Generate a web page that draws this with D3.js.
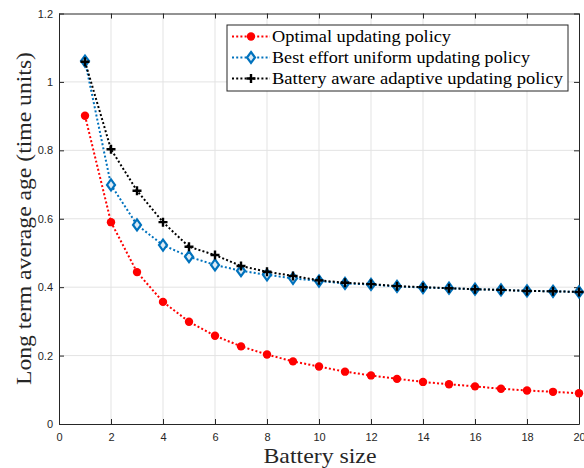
<!DOCTYPE html>
<html>
<head>
<meta charset="utf-8">
<script src="https://cdn.jsdelivr.net/npm/d3@7"></script>
<style>
  body { margin: 0; background: #fff; }
  .tick text { font-family: "Liberation Sans", Arial, sans-serif; font-size: 11px; fill: #262626; }
</style>
</head>
<body>
<svg width="584" height="468"></svg>
<script>
var batterySize = d3.range(1, 21);
var optimal = [0.901, 0.590, 0.444, 0.357, 0.299, 0.258, 0.227, 0.203, 0.183, 0.168,
               0.153, 0.142, 0.132, 0.123, 0.116, 0.110, 0.103, 0.098, 0.094, 0.090];
var bestEffort = [1.061, 0.699, 0.582, 0.523, 0.489, 0.465, 0.448, 0.436, 0.426, 0.418,
                  0.411, 0.408, 0.402, 0.399, 0.397, 0.394, 0.392, 0.389, 0.388, 0.386];
var batteryAware = [1.059, 0.803, 0.682, 0.590, 0.518, 0.494, 0.462, 0.445, 0.433, 0.420,
                    0.413, 0.409, 0.403, 0.400, 0.397, 0.394, 0.392, 0.389, 0.388, 0.386];
var xTicks = d3.range(0, 21, 2);
var yTicks = [0, 0.2, 0.4, 0.6, 0.8, 1, 1.2];
var seriesNames = ["Optimal updating policy", "Best effort uniform updating policy",
                   "Battery aware adaptive updating policy"];
var legendTextWidths = [179, 258, 291];

var svg = d3.select("svg"),
    margin = {left: 59, right: 5, top: 13.5, bottom: 44},
    width = 584 - margin.left - margin.right,
    height = 468 - margin.top - margin.bottom;

var x = d3.scaleLinear().domain([0, 20]).range([margin.left, margin.left + width]);
var y = d3.scaleLinear().domain([0, 1.2]).range([margin.top + height, margin.top]);

var g = svg.append("g");

// grid
g.selectAll(".vgrid").data(xTicks.slice(1, -1)).enter().append("line")
    .attr("x1", function(d) { return x(d); }).attr("x2", function(d) { return x(d); })
    .attr("y1", y(0)).attr("y2", y(1.2))
    .attr("stroke", "#e3e3e3").attr("stroke-width", 1);
g.selectAll(".hgrid").data(yTicks.slice(1, -1)).enter().append("line")
    .attr("y1", function(d) { return y(d); }).attr("y2", function(d) { return y(d); })
    .attr("x1", x(0)).attr("x2", x(20))
    .attr("stroke", "#e3e3e3").attr("stroke-width", 1);

// axes (MATLAB style box with inward ticks)
var fmt = function(d) { return d3.format("")(+d.toFixed(1)); };
var xAxis = g.append("g").attr("transform", "translate(0," + y(0) + ")")
    .call(d3.axisBottom(x).tickValues(xTicks).tickSizeInner(-5).tickSizeOuter(0).tickPadding(9));
var yAxis = g.append("g").attr("transform", "translate(" + x(0) + ",0)")
    .call(d3.axisLeft(y).tickValues(yTicks).tickFormat(fmt).tickSizeInner(-5).tickSizeOuter(0).tickPadding(6));
var xTop = g.append("g").attr("transform", "translate(0," + y(1.2) + ")")
    .call(d3.axisTop(x).tickValues(xTicks).tickSizeInner(-5).tickSizeOuter(0).tickFormat(""));
var yRight = g.append("g").attr("transform", "translate(" + x(20) + ",0)")
    .call(d3.axisRight(y).tickValues(yTicks).tickSizeInner(-5).tickSizeOuter(0).tickFormat(""));
[xAxis, yAxis, xTop, yRight].forEach(function(a) {
  a.select(".domain").attr("stroke", "#262626");
  a.selectAll(".tick line").attr("stroke", "#262626");
});

// series
var series = [
  {name: seriesNames[0], values: optimal, color: "#ff0000", marker: "circle"},
  {name: seriesNames[1], values: bestEffort, color: "#0072bd", marker: "diamond"},
  {name: seriesNames[2], values: batteryAware, color: "#000000", marker: "plus"}
];

var line = d3.line()
    .x(function(d, i) { return x(batterySize[i]); })
    .y(function(d) { return y(d); });

function drawMarker(sel, s, px, py) {
  if (s.marker === "circle") {
    sel.append("circle").attr("cx", px).attr("cy", py).attr("r", 4.2).attr("fill", s.color);
  } else if (s.marker === "diamond") {
    sel.append("path")
      .attr("d", "M" + px + "," + (py - 5.5) + "L" + (px + 4) + "," + py + "L" + px + "," + (py + 5.5) + "L" + (px - 4) + "," + py + "Z")
      .attr("fill", "#dbeaf5").attr("stroke", s.color).attr("stroke-width", 2.2);
  } else {
    sel.append("path")
      .attr("d", "M" + (px - 4.5) + "," + py + "H" + (px + 4.5) + "M" + px + "," + (py - 4.5) + "V" + (py + 4.5))
      .attr("stroke", s.color).attr("stroke-width", 2.4).attr("fill", "none");
  }
}

series.forEach(function(s) {
  var sg = g.append("g");
  sg.append("path").datum(s.values)
    .attr("d", line)
    .attr("fill", "none").attr("stroke", s.color)
    .attr("stroke-width", 2).attr("stroke-dasharray", "2,2.2");
  s.values.forEach(function(v, i) { drawMarker(sg, s, x(batterySize[i]), y(v)); });
});

// legend
var leg = g.append("g").attr("transform", "translate(227,25)");
leg.append("rect").attr("width", 341).attr("height", 66)
   .attr("fill", "#fff").attr("stroke", "#262626").attr("stroke-width", 1);
series.forEach(function(s, i) {
  var ly = 11.5 + i * 21;
  leg.append("line").attr("x1", 5).attr("x2", 43).attr("y1", ly).attr("y2", ly)
     .attr("stroke", s.color).attr("stroke-width", 2).attr("stroke-dasharray", "2,2.2");
  drawMarker(leg, s, 24, ly);
  leg.append("text").attr("x", 45).attr("y", ly + 5)
     .attr("font-family", "'Liberation Serif', serif").attr("font-size", 16.5)
     .attr("textLength", legendTextWidths[i]).attr("lengthAdjust", "spacingAndGlyphs")
     .attr("fill", "#000")
     .text(s.name);
});

// axis labels
svg.append("text")
   .attr("x", 320).attr("y", 463)
   .attr("text-anchor", "middle")
   .attr("font-family", "'Liberation Serif', serif").attr("font-size", 22)
   .attr("textLength", 113).attr("lengthAdjust", "spacingAndGlyphs")
   .attr("fill", "#262626")
   .text("Battery size");
svg.append("text")
   .attr("transform", "translate(31,218.5) rotate(-90)")
   .attr("text-anchor", "middle")
   .attr("font-family", "'Liberation Serif', serif").attr("font-size", 22)
   .attr("textLength", 333).attr("lengthAdjust", "spacingAndGlyphs")
   .attr("fill", "#262626")
   .text("Long term average age (time units)");
</script>
</body>
</html>
